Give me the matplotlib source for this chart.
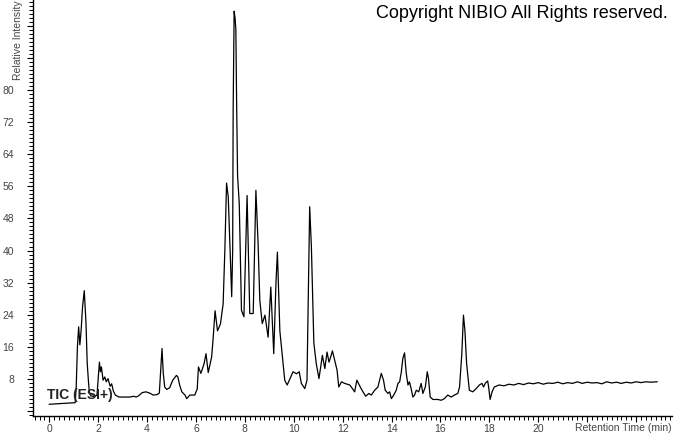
import matplotlib.pyplot as plt
from matplotlib.ticker import MultipleLocator

# retention time (min) and relative intensity
rt = [0.00, 0.52, 1.06, 1.10, 1.15, 1.20, 1.25, 1.30, 1.36, 1.43, 1.50, 1.55,
      1.60, 1.64, 1.70, 1.85, 1.95, 2.00, 2.05, 2.09, 2.13, 2.20, 2.27, 2.33,
      2.40, 2.49, 2.55, 2.62, 2.70, 2.85, 3.00, 3.30, 3.45, 3.55, 3.65, 3.80,
      3.95, 4.10, 4.25, 4.40, 4.50, 4.61, 4.66, 4.72, 4.80, 4.92, 5.05, 5.20,
      5.26, 5.33, 5.42, 5.55, 5.62, 5.75, 5.95, 6.05, 6.10, 6.20, 6.33, 6.41,
      6.50, 6.64, 6.70, 6.78, 6.88, 7.00, 7.11, 7.18, 7.25, 7.32, 7.46, 7.50,
      7.52, 7.56, 7.60, 7.63, 7.66, 7.70, 7.77, 7.86, 7.96, 8.09, 8.20, 8.34,
      8.45, 8.54, 8.61, 8.71, 8.82, 8.95, 9.06, 9.18, 9.27, 9.33, 9.43, 9.63,
      9.73, 9.97, 10.11, 10.22, 10.31, 10.45, 10.54, 10.65, 10.72, 10.82, 10.92,
      11.03, 11.17, 11.27, 11.36, 11.44, 11.51, 11.58, 11.67, 11.77, 11.84,
      11.95, 12.08, 12.29, 12.40, 12.49, 12.58, 12.72, 12.83, 12.94, 13.07,
      13.17, 13.31, 13.44, 13.58, 13.67, 13.74, 13.85, 13.92, 13.99, 14.09,
      14.19, 14.26, 14.33, 14.40, 14.46, 14.53, 14.60, 14.67, 14.73, 14.80,
      14.87, 14.94, 15.01, 15.11, 15.21, 15.28, 15.38, 15.46, 15.51, 15.58,
      15.69, 15.89, 16.03, 16.16, 16.30, 16.44, 16.57, 16.71, 16.78, 16.87,
      16.94, 17.00, 17.07, 17.18, 17.32, 17.46, 17.59, 17.70, 17.76, 17.84,
      17.93, 17.97, 18.03, 18.11, 18.20, 18.40, 18.60, 18.80, 19.00, 19.20,
      19.40, 19.60, 19.80, 20.00, 20.20, 20.40, 20.60, 20.80, 21.00, 21.20,
      21.40, 21.60, 21.80, 22.00, 22.20, 22.40, 22.60, 22.80, 23.00, 23.20,
      23.40, 23.60, 23.80, 24.00, 24.20, 24.40, 24.60, 24.86]

intensity = [1.7, 1.9, 2.1, 6.0, 16.0, 21.0, 16.5, 20.0, 26.0, 30.0, 22.0, 12.0,
             7.5, 4.5, 3.8, 3.6, 4.0, 8.0, 12.2, 9.8, 11.0, 7.7, 8.5, 7.3,
             8.1, 6.2, 6.8, 5.0, 4.0, 3.5, 3.5, 3.5, 3.7, 3.5, 3.8, 4.6,
             4.8, 4.5, 4.0, 4.1, 4.5, 15.6, 9.5, 6.0, 5.4, 5.8, 7.7, 8.9,
             8.5, 6.5, 4.8, 4.0, 3.1, 4.0, 4.0, 5.5, 11.0, 9.4, 11.8, 14.3,
             9.6, 13.5, 18.0, 25.0, 20.0, 21.7, 26.7, 40.0, 56.8, 53.3, 28.5, 40.0,
             75.0, 99.6, 97.8, 95.0, 77.8, 58.7, 51.6, 25.1, 23.5, 53.7, 24.3, 24.3,
             55.0, 41.7, 27.6, 21.8, 23.9, 18.4, 30.9, 14.3, 31.8, 39.6, 20.0, 7.7,
             6.5, 9.8, 9.3, 9.8, 6.9, 5.6, 7.7, 50.9, 40.9, 17.0, 11.8,
             8.1, 13.9, 10.6, 14.7, 12.2, 13.5, 15.0, 12.7, 10.2, 6.0,
             7.3, 6.9, 6.5, 5.6, 4.8, 7.7, 6.0, 4.8, 3.7, 4.4,
             4.0, 5.2, 6.0, 9.4, 7.7, 5.2, 4.4, 4.8, 3.1, 4.0,
             5.2, 6.9, 7.3, 9.8, 13.1, 14.5, 9.4, 6.5, 7.3, 5.6,
             3.5, 4.0, 5.2, 4.8, 6.9, 4.4, 6.0, 9.8, 8.1, 3.5,
             2.9, 2.9, 2.7, 3.1, 4.0, 3.5, 4.0, 4.4, 6.0, 14.0,
             23.9, 20.0, 11.8, 5.2, 4.8, 5.6, 6.5, 6.9, 6.0, 7.0,
             7.5, 6.0, 2.9, 4.8, 6.0, 6.5, 6.3, 6.7, 6.5, 6.9,
             6.6, 7.0, 6.8, 7.1, 6.7, 7.0, 6.9, 7.2, 6.8, 7.1,
             6.9, 7.3, 6.9, 7.2, 7.0, 7.1, 6.8, 7.3, 7.0, 7.2,
             6.9, 7.2, 7.0, 7.3, 7.1, 7.3, 7.2, 7.3]

x_ticks = list(range(0, 25, 2))
x_labels = [str(v) if v <= 20 else '' for v in x_ticks]
y_ticks = list(range(0, 100, 8))
y_labels = [str(v) if 0 < v <= 80 else '' for v in y_ticks]

W, H = 674, 434
fig = plt.figure(figsize=(W / 100, H / 100), dpi=100)
ax = fig.add_axes([33 / W, (H - 416) / H, (672 - 33) / W, 416 / H])

ax.plot(rt, intensity, color='black', linewidth=0.9)

ax.set_xlim(-0.667, 25.47)
ax.set_ylim(-1.22, 102.4)

for side in ('top', 'right'):
    ax.spines[side].set_visible(False)
for side in ('left', 'bottom'):
    ax.spines[side].set_linewidth(1.0)

ax.set_xticks(x_ticks)
ax.set_xticklabels(x_labels)
ax.set_yticks(y_ticks)
ax.set_yticklabels(y_labels)
ax.xaxis.set_minor_locator(MultipleLocator(0.2))
ax.yaxis.set_minor_locator(MultipleLocator(1))

lbl_font = dict(family='Liberation Sans', size=7.5)
ax.tick_params(axis='both', which='major', length=4.5, width=0.8,
               labelsize=7.5, labelcolor='#444444')
ax.tick_params(axis='both', which='minor', length=3, width=0.7)
ax.tick_params(axis='x', which='major', pad=1.2)
ax.tick_params(axis='y', which='major', pad=9)
for t in ax.get_xticklabels() + ax.get_yticklabels():
    t.set_family('Liberation Sans')

fig.text(18 / W, 1.0, 'Relative Intensity', rotation=90, ha='center',
         va='top', color='#444444', **lbl_font)
fig.text(672 / W, (H - 428) / H, 'Retention Time (min)', ha='right',
         va='center', color='#444444', **lbl_font)
fig.text(668 / W, (H - 14) / H, 'Copyright NIBIO All Rights reserved.',
         ha='right', va='center', family='Liberation Sans', size=13,
         color='black')
fig.text(47 / W, (H - 395) / H, 'TIC (ESI+)', ha='left', va='center',
         family='Liberation Sans', weight='bold', size=10, color='#222222')

fig.savefig('out.png', dpi=100)
